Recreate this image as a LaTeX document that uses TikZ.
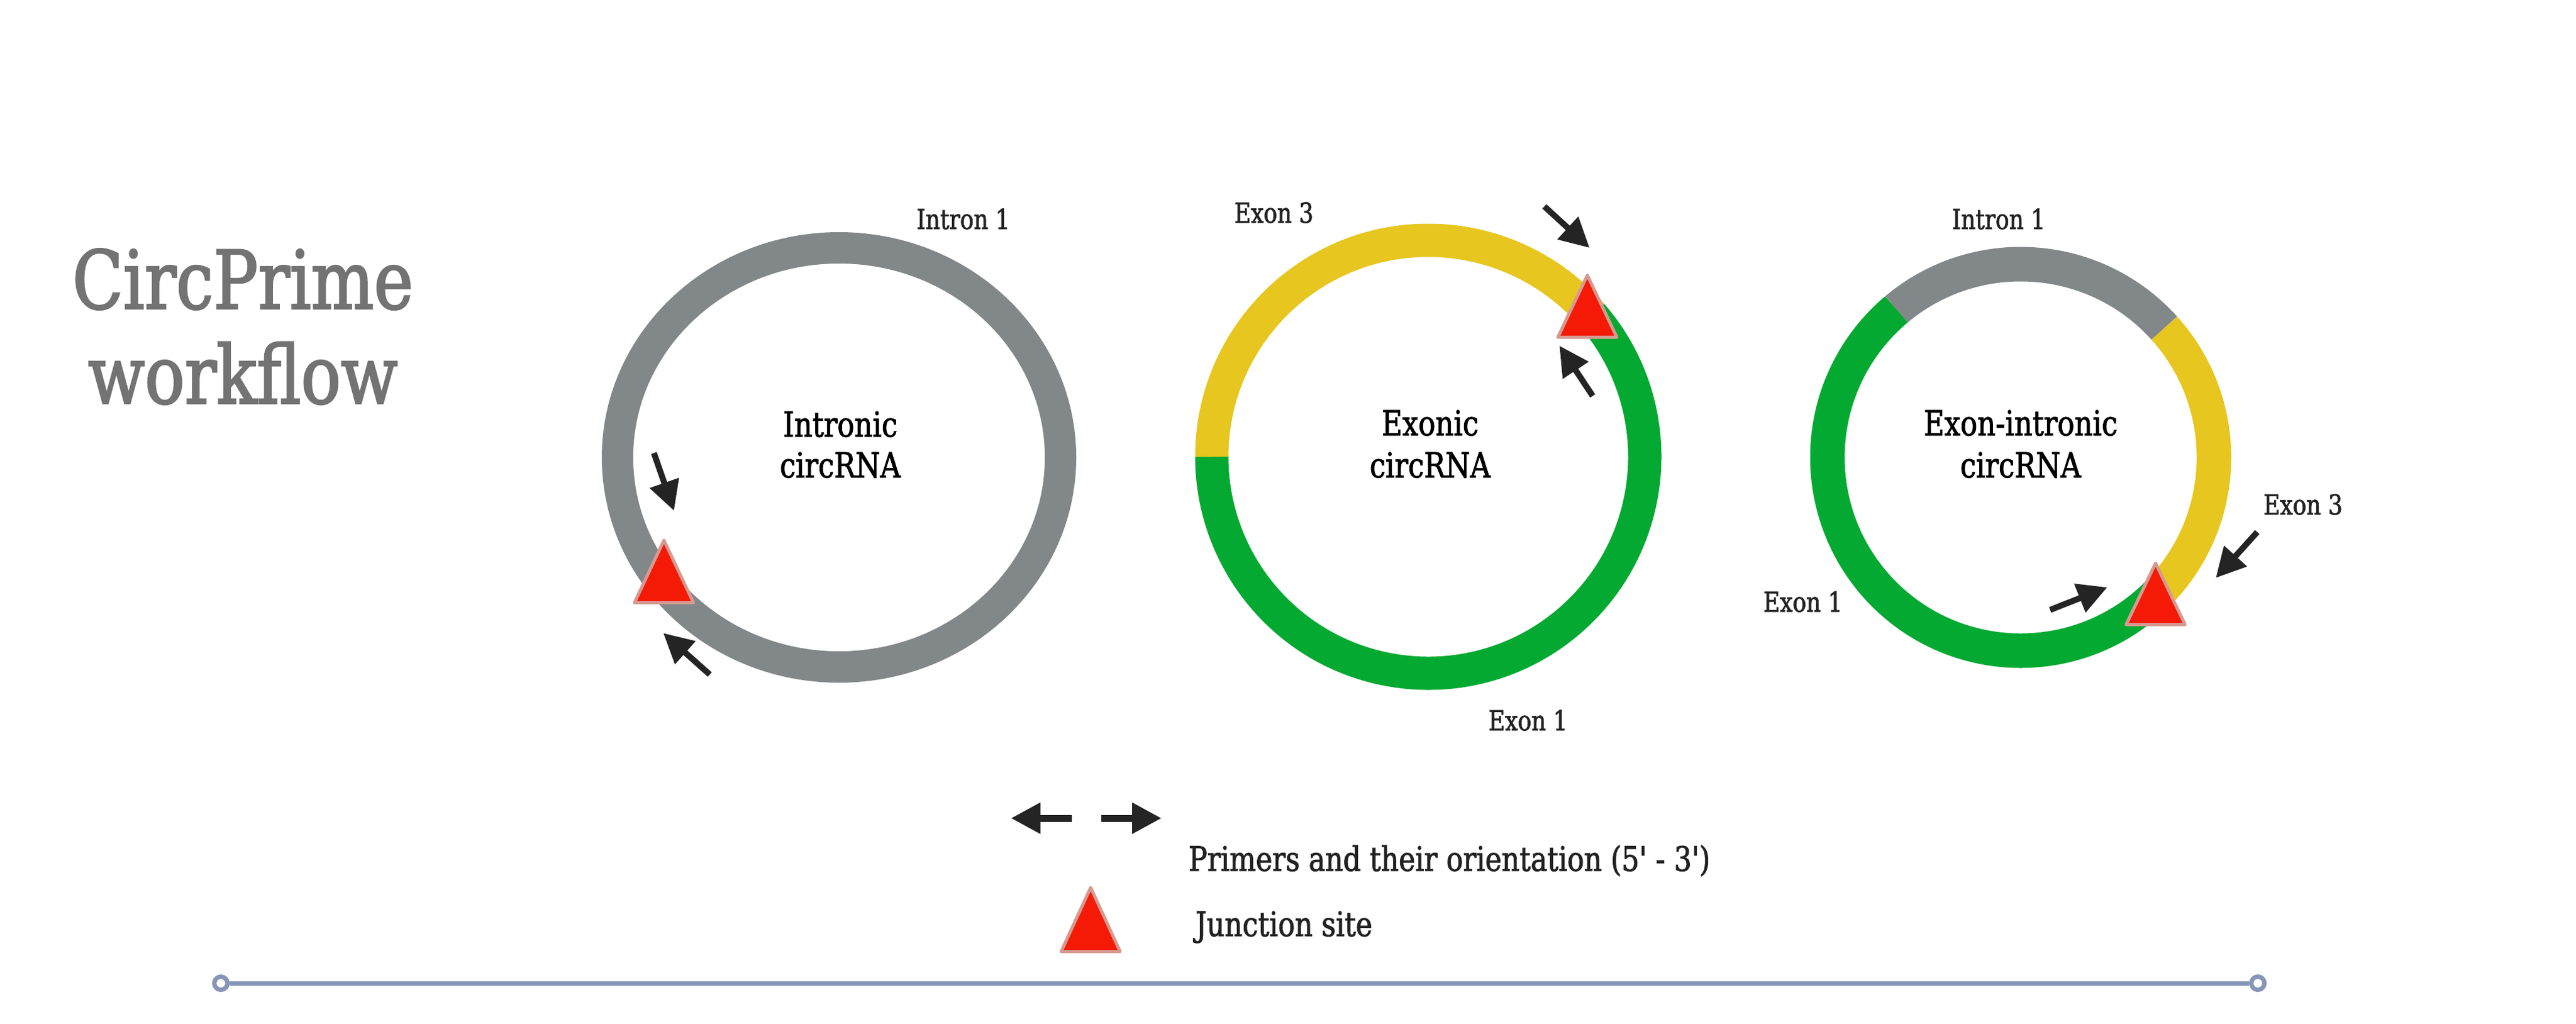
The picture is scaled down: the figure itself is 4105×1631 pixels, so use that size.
\documentclass[tikz,border=0pt]{standalone}
\usepackage{fontspec}
\newfontfamily\lblfont{DejaVu Serif}[FakeStretch=0.82,FakeBold=1.6]
\newfontfamily\titlefont{DejaVu Serif}[FakeStretch=0.82,FakeBold=2]
\newfontfamily\lgdfont{DejaVu Serif}[FakeStretch=0.82,FakeBold=1.6,Ligatures=TeXOff]
\usetikzlibrary{arrows.meta}
\definecolor{ringgrey}{HTML}{82878A}
\definecolor{ringgreen}{HTML}{03A931}
\definecolor{ringyellow}{HTML}{E7C61F}
\definecolor{arrowc}{HTML}{242424}
\definecolor{juncred}{HTML}{F41A06}
\definecolor{juncedge}{HTML}{D69A90}
\definecolor{titlegrey}{HTML}{737373}
\definecolor{lblc}{HTML}{222222}
\definecolor{linec}{HTML}{8795B8}
\begin{document}
\begin{tikzpicture}[x=1pt,y=-1pt,
  ringseg/.style={line width=#1, line cap=butt},
  primer/.style={draw=arrowc, line width=9.5pt, -{Triangle[length=47pt,width=47pt]}},
  legendprimer/.style={draw=arrowc, line width=11pt, -{Triangle[length=47pt,width=47pt]}},
  junc/.style={fill=juncred, draw=juncedge, line width=5pt, line join=round},
  biglbl/.style={font=\lblfont\fontsize{55}{66}\selectfont, text=black, inner sep=0pt, anchor=base},
  smlbl/.style={font=\lblfont\fontsize{44}{53}\selectfont, text=lblc, inner sep=0pt, anchor=base},
  lgdlbl/.style={font=\lgdfont\fontsize{54}{65}\selectfont, text=lblc, inner sep=0pt, anchor=base west},
  titlelbl/.style={font=\titlefont\fontsize{129}{150}\selectfont, text=titlegrey, inner sep=0pt, anchor=base},
  endring/.style={circle, draw=linec, fill=white, line width=7pt, minimum size=21pt, inner sep=0pt}]
\fill[white] (0,0) rectangle (4105,1631);
\useasboundingbox (0,0) rectangle (4105,1631);

% Title
\node[titlelbl] (title1) at (387,492) {CircPrime};
\node[titlelbl] (title2) at (387,643) {workflow};

% ---------- Circle 1: intronic ----------
\draw[ringgrey, ringseg=50pt] (1337,729) ellipse [x radius=353, y radius=334];
\node[smlbl] (c1intron) at (1535,365) {Intron 1};
\node[biglbl] (c1name1) at (1339,696) {Intronic};
\node[biglbl] (c1name2) at (1339,761) {circRNA};
\draw[junc] (1058,861) -- (1011,960.5) -- (1105,960.5) -- cycle;
\coordinate (p1at) at (1042,722); \coordinate (p1ah) at (1074,814);
\coordinate (p1bt) at (1131,1075); \coordinate (p1bh) at (1057,1009);
\draw[primer] (p1at) -- (p1ah);
\draw[primer] (p1bt) -- (p1bh);

% ---------- Circle 2: exonic ----------
\draw[ringyellow, ringseg=53pt] (2276,728) ++(-180:345) arc[start angle=-180, end angle=-41, radius=345];
\draw[ringgreen, ringseg=53pt] (2276,728) ++(-41:345) arc[start angle=-41, end angle=180, radius=345];
\node[smlbl] (c2exon3) at (2030,355) {Exon 3};
\node[smlbl] (c2exon1) at (2435,1164) {Exon 1};
\node[biglbl] (c2name1) at (2279,694) {Exonic};
\node[biglbl] (c2name2) at (2279,761) {circRNA};
\draw[junc] (2529.5,438.5) -- (2482.5,537.5) -- (2576.5,537.5) -- cycle;
\coordinate (p2at) at (2461,329); \coordinate (p2ah) at (2533,395);
\coordinate (p2bt) at (2538,631); \coordinate (p2bh) at (2485,551);
\draw[primer] (p2at) -- (p2ah);
\draw[primer] (p2bt) -- (p2bh);

% ---------- Circle 3: exon-intronic ----------
\draw[ringgrey, ringseg=55pt] (3220,729) ++(-130:308) arc[start angle=-130, end angle=-42, radius=308];
\draw[ringyellow, ringseg=55pt] (3220,729) ++(-42:308) arc[start angle=-42, end angle=45, radius=308];
\draw[ringgreen, ringseg=55pt] (3220,729) ++(45:308) arc[start angle=45, end angle=230, radius=308];
\node[smlbl] (c3intron) at (3185,365) {Intron 1};
\node[smlbl] (c3exon1) at (2873,975) {Exon 1};
\node[smlbl] (c3exon3) at (3670,820) {Exon 3};
\node[biglbl] (c3name1) at (3220,694) {Exon-intronic};
\node[biglbl] (c3name2) at (3220,761) {circRNA};
\draw[junc] (3435,897.5) -- (3388,995.5) -- (3482,995.5) -- cycle;
\coordinate (p3at) at (3267,972); \coordinate (p3ah) at (3358,936);
\coordinate (p3bt) at (3597,848); \coordinate (p3bh) at (3531,921);
\draw[primer] (p3at) -- (p3ah);
\draw[primer] (p3bt) -- (p3bh);

% ---------- Legend ----------
\coordinate (lglt) at (1708,1304); \coordinate (lglh) at (1611,1304);
\coordinate (lgrt) at (1755,1304); \coordinate (lgrh) at (1851,1304);
\draw[legendprimer] (lglt) -- (lglh);
\draw[legendprimer] (lgrt) -- (lgrh);
\node[lgdlbl] (lgprimers) at (1894,1388) {Primers and their orientation (5' - 3')};
\draw[junc] (1738,1414.5) -- (1691,1516.5) -- (1785,1516.5) -- cycle;
\node[lgdlbl] (lgjunction) at (1905,1492) {Junction site};

% ---------- Bottom line ----------
\node[endring] (lineL) at (352,1567) {};
\node[endring] (lineR) at (3598,1567) {};
\draw[linec, line width=7pt] (lineL) -- (lineR);
\end{tikzpicture}
\end{document}
